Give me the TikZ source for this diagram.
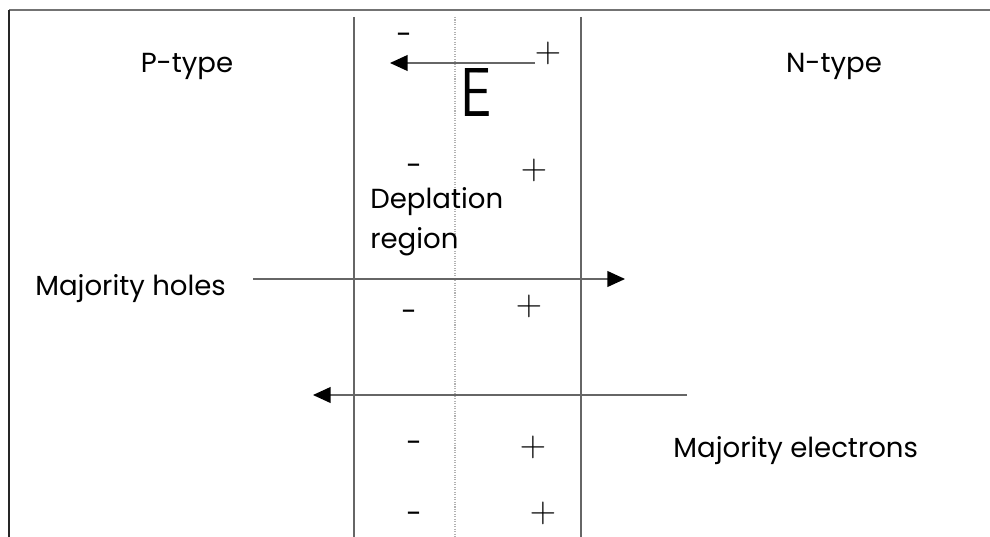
\documentclass[tikz,border=0pt]{standalone}
\usepackage{fontspec}
\setmainfont{Poppins}
\usepackage{tikz}
\usetikzlibrary{arrows.meta,positioning}

\tikzset{
  wall/.style={draw=black!60, line width=0.7pt},
  junction/.style={draw=black!30, line width=0.7pt, dash pattern=on 0.6pt off 0.8pt},
  carrier/.style={draw=black!60, line width=0.7pt, -{Triangle[length=10pt,width=9pt,color=black]}},
  lbl/.style={inner sep=0pt, font=\fontsize{15.7}{22.7}\selectfont},
  anion/.style={inner sep=0pt, font=\fontsize{16}{18}\selectfont},
  cation/.style={inner sep=0pt, font=\fontsize{20}{22}\selectfont}
}

\begin{document}
\begin{tikzpicture}[x=0.02cm,y=-0.02cm]
  \useasboundingbox (0,0) rectangle (990,537);
  % frame
  \coordinate (tl) at (9,10); \coordinate (tr) at (990,10); \coordinate (bl) at (9,537);
  \draw[black!55, line width=0.8pt] (tl) -- (tr);
  \draw[black!85, line width=0.8pt] (tl) -- (bl);
  % depletion boundaries and junction
  \coordinate (lt) at (354,17); \coordinate (lb) at (354,537);
  \coordinate (jt) at (455,17); \coordinate (jb) at (455,537);
  \coordinate (rt) at (581,17); \coordinate (rb) at (581,537);
  \draw[wall] (lt) -- (lb);
  \draw[junction] (jt) -- (jb);
  \draw[wall] (rt) -- (rb);
  % regions
  \node[lbl, anchor=base] (ptype) at (187,72) {P-type};
  \node[lbl, anchor=base] (ntype) at (834,72) {N-type};
  % field
  \coordinate (e0) at (535,63); \coordinate (e1) at (390,63);
  \draw[carrier] (e0) -- (e1);
  \node[inner sep=0pt, anchor=south] (efield) at (475.5,117) {\resizebox{0.62cm}{0.96cm}{\sffamily E}};
  % ions
  \node[anion] (minus1) at (404,39) {-};  \node[cation] (plus1) at (548,53) {$+$};
  \node[anion] (minus2) at (414,170) {-}; \node[cation] (plus2) at (534,170) {$+$};
  \node[anion] (minus3) at (409,316) {-}; \node[cation] (plus3) at (529,306) {$+$};
  \node[anion] (minus4) at (414,447) {-}; \node[cation] (plus4) at (533,447) {$+$};
  \node[anion] (minus5) at (414,518) {-}; \node[cation] (plus5) at (543,513) {$+$};
  \node[lbl, anchor=base west, align=left] (deplation) at (370,248) {Deplation\\region};
  % carriers
  \node[lbl, anchor=base west] (holes) at (35,295) {Majority holes};
  \coordinate (h0) at (253,279); \coordinate (h1) at (625,279);
  \draw[carrier] (h0) -- (h1);
  \coordinate (n0) at (687,395); \coordinate (n1) at (313,395);
  \draw[carrier] (n0) -- (n1);
  \node[lbl, anchor=base west] (electrons) at (673,457) {Majority electrons};
\end{tikzpicture}
\end{document}
